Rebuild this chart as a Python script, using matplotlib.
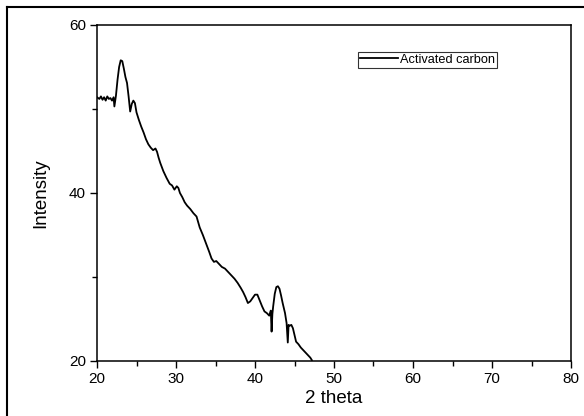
import numpy as np
import matplotlib.pyplot as plt
from matplotlib.lines import Line2D

plt.rcParams['font.family'] = ['Liberation Sans', 'DejaVu Sans']

# XRD pattern (2 theta, intensity)
two_theta = [20.0, 20.3, 20.5, 20.7, 20.9, 21.1, 21.3, 21.5, 21.7, 21.9, 22.1, 22.2,
             22.4, 22.6, 22.8, 23.0, 23.2, 23.4, 23.6, 23.8, 24.0, 24.2, 24.4, 24.6,
             24.8, 25.0, 25.3, 25.6, 25.9, 26.2, 26.5, 26.8, 27.1, 27.4, 27.6, 27.8,
             28.0, 28.4, 28.8, 29.2, 29.5, 29.8, 30.1, 30.3, 30.5, 30.8, 31.1, 31.4,
             31.8, 32.2, 32.6, 33.0, 33.4, 33.8, 34.2, 34.5, 34.8, 35.1, 35.4, 35.8,
             36.2, 36.6, 37.0, 37.4, 37.8, 38.2, 38.5, 38.8, 39.1, 39.4, 39.7, 40.0,
             40.3, 40.6, 40.9, 41.2, 41.5, 41.8, 42.0, 42.1, 42.2, 42.3, 42.5, 42.7,
             42.9, 43.1, 43.3, 43.5, 43.8, 44.0, 44.15, 44.25, 44.4, 44.6, 44.8, 45.0,
             45.2, 45.5, 45.8, 46.1, 46.4, 46.7, 47.0, 47.2]
intensity = [51.4, 51.2, 51.5, 51.1, 51.4, 51.0, 51.5, 51.2, 51.3, 51.0, 51.4, 50.3,
             51.6, 53.5, 55.0, 55.8, 55.7, 54.8, 53.8, 53.1, 51.5, 49.7, 50.6, 51.0,
             50.7, 49.6, 48.7, 47.9, 47.2, 46.4, 45.8, 45.4, 45.1, 45.3, 44.9, 44.2,
             43.6, 42.6, 41.8, 41.1, 40.9, 40.4, 40.8, 40.6, 40.0, 39.5, 38.9, 38.5,
             38.1, 37.6, 37.2, 35.9, 35.0, 34.0, 33.0, 32.2, 31.8, 31.9, 31.6, 31.2,
             31.0, 30.6, 30.2, 29.8, 29.3, 28.7, 28.2, 27.6, 26.9, 27.1, 27.5, 27.9,
             27.9, 27.2, 26.5, 25.9, 25.7, 25.4, 26.0, 23.5, 25.6, 26.5, 28.0, 28.8,
             28.9, 28.6, 27.8, 26.9, 25.7, 24.5, 22.2, 24.3, 24.2, 24.3, 23.9, 23.1,
             22.3, 22.0, 21.6, 21.3, 21.0, 20.7, 20.4, 20.1]

fig = plt.figure(figsize=(5.84, 4.16), dpi=100)
ax = fig.add_axes([97 / 584, 1 - 361 / 416, 474 / 584, 336 / 416])

ax.plot(two_theta, intensity, color='black', lw=1.3, label='Activated carbon')

ax.set_xlim(20, 80)
ax.set_ylim(20, 60)
ax.set_xticks(np.arange(20, 81, 10))
ax.set_xticks(np.arange(25, 80, 10), minor=True)
ax.set_yticks([20, 40, 60])
ax.set_yticks([30, 50], minor=True)
ax.tick_params(which='both', direction='out', labelsize=11, width=1, top=False, right=False)
ax.tick_params(which='major', length=5, pad=3)
ax.tick_params(which='minor', length=3.5)
for sp in ax.spines.values():
    sp.set_linewidth(1.1)

ax.set_xlabel('2 theta', fontsize=13.5, labelpad=3)
ax.set_ylabel('Intensity', fontsize=13.5, labelpad=14)

leg = ax.legend(loc='upper left', bbox_to_anchor=(0.551, 0.92), fontsize=9.2,
                frameon=True, fancybox=False, edgecolor='black', handlelength=3.0,
                handletextpad=0.15, borderpad=0.15, borderaxespad=0)
leg.get_frame().set_linewidth(0.8)

# outer frame of the screenshot
fig.add_artist(Line2D([7 / 584, 7 / 584], [0, 1 - 7 / 416], transform=fig.transFigure,
                      color='black', lw=1.5))
fig.add_artist(Line2D([7 / 584, 1], [1 - 7 / 416, 1 - 7 / 416], transform=fig.transFigure,
                      color='black', lw=1.5))

fig.savefig('out.png', dpi=100)
